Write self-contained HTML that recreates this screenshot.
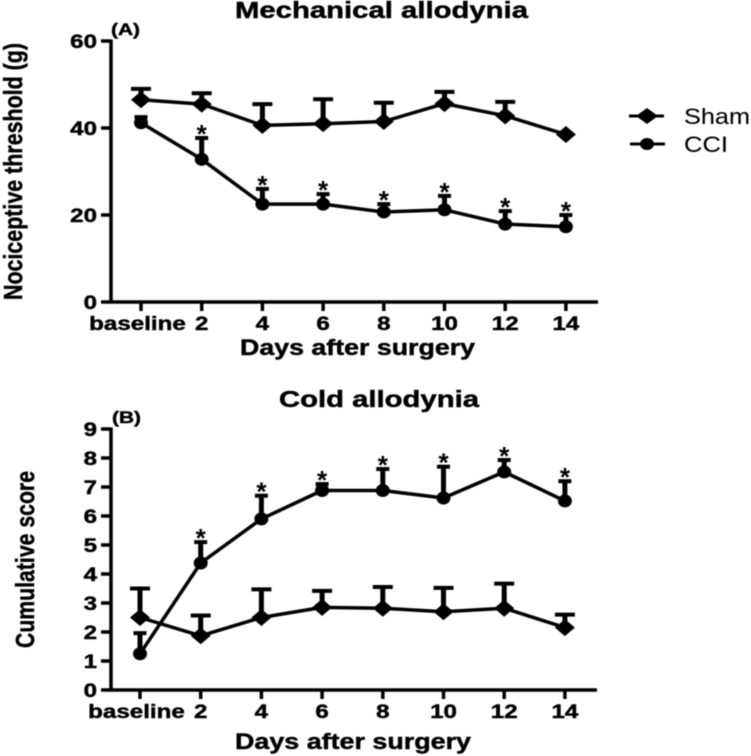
<!DOCTYPE html>
<html lang="en">
<head>
<meta charset="utf-8">
<title>Mechanical and cold allodynia</title>
<style>
  html, body { margin: 0; padding: 0; background: #fff; width: 751px; height: 756px; overflow: hidden; }
  svg { display: block; filter: blur(0.4px); }
  text { font-family: "Liberation Sans", sans-serif; fill: #000; font-weight: bold; stroke: #000; stroke-width: 0.45px; }
  text.regular { font-weight: normal; stroke-width: 0.1px; }
</style>
</head>
<body>
<svg id="figure" xmlns="http://www.w3.org/2000/svg" width="751" height="756" viewBox="0 0 751 756">
  <g id="panel-a">
    <text x="235" y="18" font-size="23" textLength="293" lengthAdjust="spacingAndGlyphs">Mechanical allodynia</text>
    <text x="111" y="35" font-size="17" textLength="29" lengthAdjust="spacingAndGlyphs">(A)</text>
    <text transform="translate(22,300) rotate(-90)" font-size="26" textLength="257" lengthAdjust="spacingAndGlyphs">Nociceptive threshold (g)</text>
    <text x="240" y="355" font-size="22" textLength="235" lengthAdjust="spacingAndGlyphs">Days after surgery</text>
  </g>
  <g id="panel-b">
    <text x="279" y="407" font-size="23" textLength="200" lengthAdjust="spacingAndGlyphs">Cold allodynia</text>
    <text x="112" y="423" font-size="17" textLength="29" lengthAdjust="spacingAndGlyphs">(B)</text>
    <text transform="translate(34,648) rotate(-90)" font-size="26" textLength="177" lengthAdjust="spacingAndGlyphs">Cumulative score</text>
    <text x="235" y="749" font-size="22" textLength="236" lengthAdjust="spacingAndGlyphs">Days after surgery</text>
  </g>
  <g id="legend">
    <g>
      <line x1="629" x2="664" y1="116" y2="116" stroke="#000" stroke-width="3"></line>
      <polygon points="636,116 647,108 658,116 647,124" fill="#000"></polygon>
      <text class="regular" x="684" y="124" font-size="22" textLength="66" lengthAdjust="spacingAndGlyphs">Sham</text>
    </g>
    <g>
      <line x1="630" x2="665" y1="144" y2="144" stroke="#000" stroke-width="3"></line>
      <ellipse cx="647" cy="144" rx="7" ry="6" fill="#000"></ellipse>
      <text class="regular" x="684" y="152" font-size="22" textLength="44" lengthAdjust="spacingAndGlyphs">CCI</text>
    </g>
  </g>
</svg>
<script>
var categories = ['baseline', '2', '4', '6', '8', '10', '12', '14'];

var ticksA = [0, 20, 40, 60];
var shamA = [46.5, 45.5, 40.6, 41.0, 41.5, 45.6, 42.8, 38.5];
var shamAUpper = [49.0, 48.0, 45.5, 46.6, 45.8, 48.3, 46.0, 38.5];
var cciA = [41.2, 32.8, 22.5, 22.5, 20.7, 21.2, 17.9, 17.3];
var cciAUpper = [42.5, 37.7, 26.0, 24.8, 22.5, 24.4, 20.9, 20.0];
var starsA = [0, 1, 1, 1, 1, 1, 1, 1];

var ticksB = [0, 1, 2, 3, 4, 5, 6, 7, 8, 9];
var shamB = [2.5, 1.87, 2.5, 2.85, 2.82, 2.7, 2.82, 2.15];
var shamBUpper = [3.5, 2.57, 3.47, 3.42, 3.55, 3.52, 3.67, 2.6];
var cciB = [1.25, 4.38, 5.9, 6.88, 6.88, 6.62, 7.52, 6.52];
var cciBUpper = [1.96, 5.1, 6.7, 7.1, 7.62, 7.7, 7.93, 7.2];
var starsB = [0, 1, 1, 1, 1, 1, 1, 1];

var NS = 'http://www.w3.org/2000/svg';

function make(parent, tag, attrs, name) {
  var el = document.createElementNS(NS, tag);
  for (var k in attrs) { el.setAttribute(k, attrs[k]); }
  
  
  parent.appendChild(el);
  return el;
}

function stretchedText(parent, str, x, y, anchor, name) {
  var t = make(parent, 'text', { x: x, y: y, 'font-size': 19, 'text-anchor': anchor }, name);
  t.textContent = str;
  var w = t.getComputedTextLength();
  t.setAttribute('textLength', (w * 1.27).toFixed(1));
  t.setAttribute('lengthAdjust', 'spacingAndGlyphs');
  return t;
}

function drawPanel(cfg) {
  var g = document.getElementById(cfg.id);
  var maxTick = cfg.ticks[cfg.ticks.length - 1];
  function xScale(i) { return cfg.x0 + i * cfg.xStep; }
  function yScale(v) { return cfg.yBottom - (v / maxTick) * (cfg.yBottom - cfg.yTop); }

  make(g, 'line', { x1: cfg.axisX, x2: cfg.axisX, y1: cfg.yTop - 1.5, y2: cfg.yBottom + 1.5, stroke: '#000', 'stroke-width': 3.5 }, cfg.prefix + '-y-axis');
  make(g, 'line', { x1: cfg.axisX, x2: cfg.xEnd, y1: cfg.yBottom, y2: cfg.yBottom, stroke: '#000', 'stroke-width': 3.5 }, cfg.prefix + '-x-axis');

  cfg.ticks.forEach(function (v) {
    var y = yScale(v);
    make(g, 'line', { x1: cfg.axisX - 10, x2: cfg.axisX, y1: y, y2: y, stroke: '#000', 'stroke-width': 3.5 }, cfg.prefix + '-y-tick');
    stretchedText(g, String(v), cfg.axisX - 14, y + 7, 'end', cfg.prefix + '-y-tick-label');
  });

  categories.forEach(function (c, i) {
    var x = xScale(i);
    make(g, 'line', { x1: x, x2: x, y1: cfg.yBottom, y2: cfg.yBottom + 9, stroke: '#000', 'stroke-width': 3.5 }, cfg.prefix + '-x-tick');
    var shift = i === 0 ? -3.5 : 0;
    stretchedText(g, c, x + shift, cfg.yBottom + 28, 'middle', cfg.prefix + '-x-tick-label');
  });

  function drawSeries(values, upper, capHalf, kind, seriesName) {
    var pts = values.map(function (v, i) { return xScale(i) + ',' + yScale(v).toFixed(1); }).join(' ');
    values.forEach(function (v, i) {
      if (upper[i] <= v) { return; }
      var x = xScale(i), yT = yScale(upper[i]);
      make(g, 'line', { x1: x, x2: x, y1: yScale(v), y2: yT, stroke: '#000', 'stroke-width': 5 }, seriesName + '-error-bar');
      make(g, 'line', { x1: x - capHalf, x2: x + capHalf, y1: yT, y2: yT, stroke: '#000', 'stroke-width': 4 }, seriesName + '-error-cap');
    });
    make(g, 'polyline', { points: pts, fill: 'none', stroke: '#000', 'stroke-width': 3.5, 'stroke-linejoin': 'round' }, seriesName + '-line');
    values.forEach(function (v, i) {
      var x = xScale(i), y = yScale(v);
      if (kind === 'diamond') {
        make(g, 'polygon', { points: (x - 10) + ',' + y + ' ' + x + ',' + (y - 8.5) + ' ' + (x + 10) + ',' + y + ' ' + x + ',' + (y + 8.5), fill: '#000' }, seriesName + '-point');
      } else {
        make(g, 'ellipse', { cx: x, cy: y, rx: 7, ry: 6.5, fill: '#000' }, seriesName + '-point');
      }
    });
  }

  drawSeries(cfg.sham, cfg.shamUpper, 10, 'diamond', cfg.prefix + '-sham');
  drawSeries(cfg.cci, cfg.cciUpper, 6.5, 'circle', cfg.prefix + '-cci');

  cfg.stars.forEach(function (s, i) {
    if (!s) { return; }
    var t = make(g, 'text', { x: xScale(i), y: yScale(cfg.cciUpper[i]) + 5, 'font-size': 26, 'text-anchor': 'middle' }, cfg.prefix + '-significance-star');
    t.setAttribute('style', 'stroke-width:0');
    t.textContent = '*';
  });
}

drawPanel({
  id: 'panel-a', prefix: 'panel-a', ticks: ticksA,
  sham: shamA, shamUpper: shamAUpper, cci: cciA, cciUpper: cciAUpper, stars: starsA,
  x0: 141, xStep: 60.7, axisX: 111, xEnd: 598, yTop: 41, yBottom: 302
});
drawPanel({
  id: 'panel-b', prefix: 'panel-b', ticks: ticksB,
  sham: shamB, shamUpper: shamBUpper, cci: cciB, cciUpper: cciBUpper, stars: starsB,
  x0: 140, xStep: 60.7, axisX: 111, xEnd: 597, yTop: 429, yBottom: 690
});
</script>
</body>
</html>
